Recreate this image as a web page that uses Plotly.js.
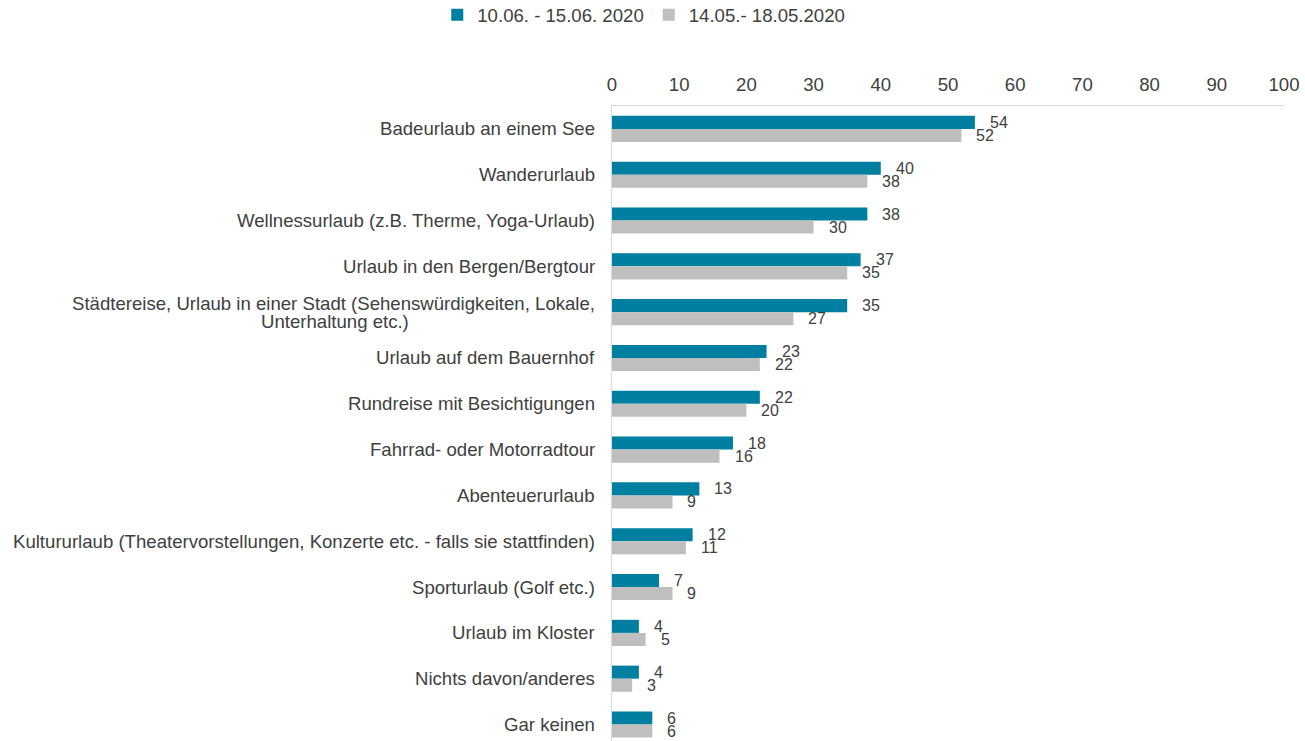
<!DOCTYPE html>
<html>
<head>
<meta charset="utf-8">
<script src="https://cdn.plot.ly/plotly-3.0.1.min.js"></script>
<style>html,body{margin:0;padding:0;background:#fff;}#chart{width:1305px;height:741px;}</style>
</head>
<body>
<div id="chart"></div>
<script>
const categories = [
  "Badeurlaub an einem See",
  "Wanderurlaub",
  "Wellnessurlaub (z.B. Therme, Yoga-Urlaub)",
  "Urlaub in den Bergen/Bergtour",
  "Städtereise, Urlaub in einer Stadt (Sehenswürdigkeiten, Lokale,<br>Unterhaltung etc.)",
  "Urlaub auf dem Bauernhof",
  "Rundreise mit Besichtigungen",
  "Fahrrad- oder Motorradtour",
  "Abenteuerurlaub",
  "Kultururlaub (Theatervorstellungen, Konzerte etc. - falls sie stattfinden)",
  "Sporturlaub (Golf etc.)",
  "Urlaub im Kloster",
  "Nichts davon/anderes",
  "Gar keinen"
];
const seriesNames = ["10.06. - 15.06. 2020", "14.05.- 18.05.2020"];
const juni = [54, 40, 38, 37, 35, 23, 22, 18, 13, 12, 7, 4, 4, 6];
const mai = [52, 38, 30, 35, 27, 22, 20, 16, 9, 11, 9, 5, 3, 6];
const xTicks = [0, 10, 20, 30, 40, 50, 60, 70, 80, 90, 100];

const TEAL = "#007FA1";
const GREY = "#BFBFBF";
const TXT = "#404040";
const FONT = "Liberation Sans, Arial, sans-serif";
const LABEL_SIZE = 18.6;
const LINE_GAP = 18;

const traces = [
  {type: "bar", orientation: "h", name: seriesNames[0], x: juni, y: categories,
   marker: {color: TEAL}, hoverinfo: "x"},
  {type: "bar", orientation: "h", name: seriesNames[1], x: mai, y: categories,
   marker: {color: GREY}, hoverinfo: "x"}
];

// measure text width for centring wrapped category lines (like the original)
const ctx = document.createElement("canvas").getContext("2d");
ctx.font = LABEL_SIZE + "px 'Liberation Sans', Arial, sans-serif";

const annotations = [];
categories.forEach((c, i) => {
  const lines = c.split("<br>");
  if (lines.length === 1) {
    annotations.push({xref: "paper", yref: "y", x: 0, y: c, xanchor: "right", yanchor: "middle",
      xshift: -15, text: c, showarrow: false,
      font: {family: FONT, size: LABEL_SIZE, color: TXT}});
  } else {
    const w0 = ctx.measureText(lines[0]).width;
    lines.forEach((ln, k) => {
      const ys = ((lines.length - 1) / 2 - k) * LINE_GAP;
      if (k === 0) {
        annotations.push({xref: "paper", yref: "y", x: 0, y: c, xanchor: "right", yanchor: "middle",
          xshift: -15, yshift: ys, text: ln, showarrow: false,
          font: {family: FONT, size: LABEL_SIZE, color: TXT}});
      } else {
        annotations.push({xref: "paper", yref: "y", x: 0, y: c, xanchor: "center", yanchor: "middle",
          xshift: -15 - 1 - w0 / 2, yshift: ys, text: ln, showarrow: false,
          font: {family: FONT, size: LABEL_SIZE, color: TXT}});
      }
    });
  }
  annotations.push({xref: "x", yref: "y", x: juni[i], y: c, xanchor: "left", yanchor: "middle",
    xshift: 13, yshift: 6.5, text: String(juni[i]), showarrow: false,
    font: {family: FONT, size: 16, color: TXT}});
  annotations.push({xref: "x", yref: "y", x: mai[i], y: c, xanchor: "left", yanchor: "middle",
    xshift: 13, yshift: -6.5, text: String(mai[i]), showarrow: false,
    font: {family: FONT, size: 16, color: TXT}});
});

const layout = {
  width: 1305, height: 741,
  margin: {l: 612, r: 21, t: 106, b: 0, pad: 0, autoexpand: false},
  paper_bgcolor: "#fff", plot_bgcolor: "#fff",
  font: {family: FONT, size: LABEL_SIZE, color: TXT},
  barmode: "group", bargap: 0.43, bargroupgap: 0,
  showlegend: true,
  legend: {orientation: "h", x: -0.26, xanchor: "left", y: 1.173, yanchor: "top",
    font: {family: FONT, size: LABEL_SIZE, color: TXT}, bgcolor: "rgba(0,0,0,0)"},
  xaxis: {side: "top", range: [0, 100], tickvals: xTicks, ticktext: xTicks.map(String),
    showgrid: false, zeroline: false, showline: true, linecolor: "#D9D9D9", linewidth: 1.5,
    ticks: "", ticklabelstandoff: 6, automargin: false,
    tickfont: {family: FONT, size: LABEL_SIZE, color: TXT}, fixedrange: true},
  yaxis: {type: "category", categoryorder: "array", categoryarray: categories,
    range: [13.36, -0.5], showgrid: false, zeroline: false, showline: true, automargin: false,
    linecolor: "#D9D9D9", linewidth: 1.5, ticks: "", showticklabels: false, fixedrange: true},
  annotations: annotations
};

Plotly.newPlot("chart", traces, layout, {displayModeBar: false, staticPlot: true});
</script>
</body>
</html>
